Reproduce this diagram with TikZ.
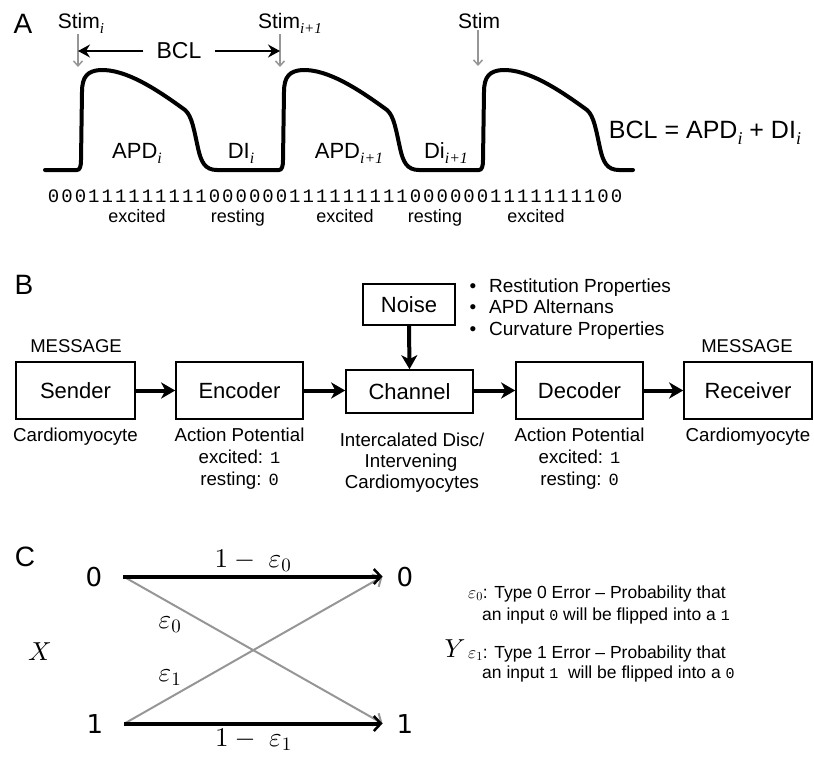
\documentclass[tikz,border=0pt]{standalone}
\usepackage[no-math]{fontspec}
\DeclareFontShape{OML}{cmm}{m}{it}{<->cmmi10}{}
\DeclareFontShape{OT1}{cmr}{m}{n}{<->cmr10}{}
\DeclareFontShape{OMS}{cmsy}{m}{n}{<->cmsy10}{}
\setmainfont{Liberation Sans}
\newfontfamily\tms{Liberation Serif}
\newfontfamily\mono{Liberation Mono}
\newfontfamily\dvs{DejaVu Sans}
\usetikzlibrary{arrows.meta}
\newcommand\fs[1]{\fontsize{#1}{#1}\selectfont}
\newcommand\sbs[1]{\raisebox{-.25em}{\scalebox{0.72}{\tms\itshape #1}}}
\newcommand\md[2]{{\mono\fontsize{#1}{#1}\selectfont #2}}
\definecolor{gr}{RGB}{150,150,150}
\newcommand\apseg[1]{-- (#1-3,170) .. controls (#1,170) and (#1+1,166) .. (#1+1,160) -- (#1+2,92) .. controls (#1+2,76) and (#1+8,71) .. (#1+20,70) .. controls (#1+45,69) and (#1+75,88) .. (#1+105,110) .. controls (#1+112,116) and (#1+114,130) .. (#1+118,148) .. controls (#1+121,162) and (#1+125,170) .. (#1+137,170)}
\begin{document}
\begin{tikzpicture}[x=1pt,y=-1pt,
  txt/.style={inner sep=0pt,anchor=base},
  ltxt/.style={inner sep=0pt,anchor=base west},
  wave/.style={line width=4pt,line cap=round,line join=round},
  stimarr/.style={draw=gr,line width=1.5pt,-{Straight Barb[length=5pt,width=9pt]}},
  bclarr/.style={line width=1.6pt,-{Stealth[length=12pt,width=13pt,inset=4pt]}},
  box/.style={draw,line width=1.6pt,inner sep=0pt,font=\fs{22}},
  barrow/.style={line width=4pt,-{Stealth[length=14pt,width=16pt,inset=4pt]}},
  cblk/.style={line width=4pt,-{Straight Barb[length=7pt,width=15pt,line width=2.5pt]}},
  cgry/.style={draw=gr,line width=2pt,-{Straight Barb[length=7pt,width=14pt,line width=2pt]}}]
\useasboundingbox (0,0) rectangle (814,756);

% ---------------- Panel A ----------------
\node[txt,font=\fs{28}] (lA) at (23,33) {A};
\node[txt,font=\fs{21}] (s1) at (81,28) {Stim\sbs{i}};
\node[txt,font=\fs{21}] (s2) at (290,28) {Stim\sbs{i+1}};
\node[txt,font=\fs{21}] (s3) at (479,28) {Stim};
\coordinate (a1) at (78,67);
\coordinate (a2) at (280,67);
\coordinate (a3) at (478,66);
\draw[stimarr] ([yshift=-1pt]s1.south -| a1) -- (a1);
\draw[stimarr] ([yshift=-1pt]s2.south -| a2) -- (a2);
\draw[stimarr] ([yshift=-2pt]s3.south -| a3) -- (a3);

\node[txt,font=\fs{23}] (bcl) at (179,58) {BCL};
\coordinate (bl) at (78,51);
\coordinate (br) at (280,51);
\coordinate (bcll) at ([xshift=-13pt]bcl.west);
\coordinate (bclr) at ([xshift=13pt]bcl.east);
\draw[bclarr] (bcll |- bl) -- (bl);
\draw[bclarr] (bclr |- br) -- (br);

\draw[wave] (45,170) \apseg{80} \apseg{282} \apseg{482} -- (633,170);

\node[txt,font=\fs{22}] (apd1) at (137,158) {APD\sbs{i}};
\node[txt,font=\fs{22}] (di1) at (241,158) {DI\sbs{i}};
\node[txt,font=\fs{22}] (apd2) at (349,158) {APD\sbs{i+1}};
\node[txt,font=\fs{22}] (di2) at (446,158) {Di\sbs{i+1}};
\node[txt,font=\fs{25}] (eq) at (705,138) {BCL = APD\sbs{i} + DI\sbs{i}};

\foreach \c [count=\k from 0] in {0,0,0,1,1,1,1,1,1,1,1,1,0,0,0,0,0,0,1,1,1,1,1,1,1,1,1,0,0,0,0,0,0,1,1,1,1,1,1,1,1,0,0}
  \node[txt,font=\mono\fs{19}] (bit\k) at (53.7+13.4*\k,202) {\c};

\node[txt,font=\fs{18}] (ex1) at (137,222) {excited};
\node[txt,font=\fs{18}] (re1) at (238,222) {resting};
\node[txt,font=\fs{18}] (ex2) at (345,222) {excited};
\node[txt,font=\fs{18}] (re2) at (435,222) {resting};
\node[txt,font=\fs{18}] (ex3) at (536,222) {excited};

% ---------------- Panel B ----------------
\node[txt,font=\fs{28}] (lB) at (24,294) {B};
\node[box,minimum width=119pt,minimum height=57pt] (snd) at (75.5,390.5) {Sender};
\node[box,minimum width=127pt,minimum height=57pt] (enc) at (239.5,390.5) {Encoder};
\node[box,minimum width=127pt,minimum height=43pt] (chn) at (409.5,391.5) {Channel};
\node[box,minimum width=92pt,minimum height=41pt] (noi) at (409,304.5) {Noise};
\node[box,minimum width=127pt,minimum height=57pt] (dec) at (579.5,390.5) {Decoder};
\node[box,minimum width=128pt,minimum height=57pt] (rcv) at (748,390.5) {Receiver};

\draw[barrow] (snd.east) -- (enc.west);
\draw[barrow] (enc.east) -- (enc.east -| chn.west);
\draw[barrow] (dec.west -| chn.east) -- (dec.west);
\draw[barrow] (dec.east) -- (rcv.west);
\draw[barrow] (noi.south) -- (chn.north);

\node[txt,font=\fs{18.5}] (msg1) at (76,352) {MESSAGE};
\node[txt,font=\fs{18.5}] (msg2) at (747,352) {MESSAGE};

\node[ltxt,font=\fs{19}] (bu1) at (489,292) {\llap{•\hspace{13pt}}Restitution Properties};
\node[ltxt,font=\fs{19}] (bu2) at (489,313) {\llap{•\hspace{13pt}}APD Alternans};
\node[ltxt,font=\fs{19}] (bu3) at (489,335) {\llap{•\hspace{13pt}}Curvature Properties};

\node[txt,font=\fs{18.7}] (sndl) at (75.5,441) {Cardiomyocyte};
\node[txt,font=\fs{18.7}] (enc1) at (239.5,441) {Action Potential};
\node[txt,font=\fs{18.7}] (enc2) at (239.5,463) {excited: \md{17}{1}};
\node[txt,font=\fs{18.7}] (enc3) at (239.5,485) {resting: \md{17}{0}};
\node[txt,font=\fs{18.7}] (chn1) at (412,446) {Intercalated Disc/};
\node[txt,font=\fs{18.7}] (chn2) at (411,467) {Intervening};
\node[txt,font=\fs{18.7}] (chn3) at (412,488) {Cardiomyocytes};
\node[txt,font=\fs{18.7}] (dec1) at (579.5,441) {Action Potential};
\node[txt,font=\fs{18.7}] (dec2) at (579.5,463) {excited: \md{17}{1}};
\node[txt,font=\fs{18.7}] (dec3) at (579.5,485) {resting: \md{17}{0}};
\node[txt,font=\fs{18.7}] (rcvl) at (748,441) {Cardiomyocyte};

% ---------------- Panel C ----------------
\node[txt,font=\fs{28}] (lC) at (25,566) {C};
\node[txt,font=\dvs\fs{26}] (x0) at (94,586) {0};
\node[txt,font=\dvs\fs{26}] (x1) at (95,733) {1};
\node[txt,font=\dvs\fs{26}] (y0) at (405,586) {0};
\node[txt,font=\dvs\fs{26}] (y1) at (405,733) {1};

\draw[cgry] ([xshift=21pt]x0.east) -- ([xshift=-14pt]y1.west);
\draw[cgry] ([xshift=21pt]x1.east) -- ([xshift=-14pt]y0.west);
\draw[cblk] ([xshift=21pt]x0.east) -- ([xshift=-14pt]y0.west);
\draw[cblk] ([xshift=21pt]x1.east) -- ([xshift=-14pt]y1.west);

\node[txt,font=\fs{27}] (p00) at (253,567) {$1-\ \varepsilon_0$};
\node[txt,font=\fs{27}] (p11) at (253.5,746) {$1-\ \varepsilon_1$};
\node[txt,font=\fs{27}] (p01) at (170,628) {$\varepsilon_0$};
\node[txt,font=\fs{27}] (p10) at (170,681) {$\varepsilon_1$};
\node[txt,font=\fs{26}] (X) at (40,660) {$X$};
\node[txt,font=\fs{26}] (Y) at (455,657) {$Y$};

\node[ltxt,font=\fs{17.5}] (l0a) at (468,598) {$\varepsilon_0$: Type 0 Error – Probability that};
\node[ltxt,font=\fs{17.5}] (l0b) at (482,620) {an input \md{15}{0} will be flipped into a \md{15}{1}};
\node[ltxt,font=\fs{17.5}] (l1a) at (468,658) {$\varepsilon_1$: Type 1 Error – Probability that};
\node[ltxt,font=\fs{17.5}] (l1b) at (482,678) {an input \md{15}{1}\ \ will be flipped into a \md{15}{0}};
\end{tikzpicture}
\end{document}
